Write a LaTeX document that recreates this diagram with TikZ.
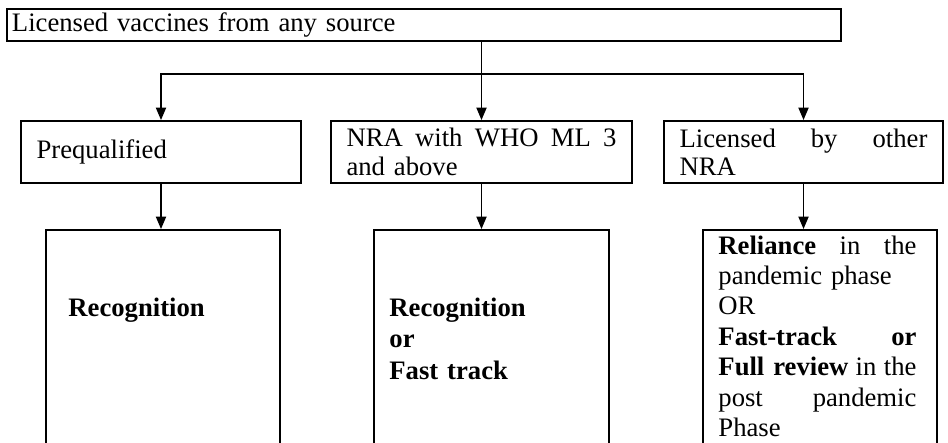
\documentclass[tikz,border=0pt]{standalone}
\usepackage{fontspec}
\setmainfont{Liberation Serif}
\usetikzlibrary{arrows.meta,positioning}
\tikzset{
  >={Triangle[length=5.6pt,width=4.6pt]},
  box/.style={draw, line width=0.9pt, inner sep=0pt, align=left},
  lowtext/.style={anchor=base west, inner sep=0pt, align=left},
}
\newcommand{\spreadline}[2]{\leavevmode\hbox to #1{#2}}
\begin{document}
\begin{tikzpicture}[x=0.45pt,y=0.45pt,font=\fontsize{12}{12.75}\selectfont]
      \clip (0,0) rectangle (948,-442);
      \node[box, minimum width=375.3pt, minimum height=14.4pt, text width=370.8pt]
        (src) at (424,-25) {Licensed vaccines from any source};
      \coordinate (split) at (481,-74);
      \node[box, minimum width=126pt, minimum height=27.9pt, text width=112pt]
        (mid1) at (161,-152) {Prequalified};
      \node[box, minimum width=135.45pt, minimum height=27.9pt, text width=121.45pt]
        (mid2) at (481.5,-152)
        {\spreadline{121.45pt}{NRA\hfill with\hfill WHO\hfill ML\hfill 3}\\and above};
      \node[box, minimum width=125.55pt, minimum height=27.9pt, text width=111.55pt]
        (mid3) at (803.5,-152)
        {\spreadline{111.55pt}{Licensed\hfill by\hfill other}\\NRA};
      \node[box, minimum width=105.3pt, minimum height=112.5pt] (low1) at (163,-355) {};
      \node[box, minimum width=105.75pt, minimum height=112.5pt] (low2) at (491.5,-355) {};
      \node[box, minimum width=105.3pt, minimum height=112.5pt] (low3) at (820,-355) {};
      \node[lowtext, text width=80pt, font=\bfseries\fontsize{12}{12.75}\selectfont]
        (rec1) at ([xshift=10.35pt,yshift=-39.15pt]low1.north west) {Recognition};
      \node[lowtext, text width=80pt, font=\bfseries\fontsize{12}{14.2}\selectfont]
        (rec2) at ([xshift=7.2pt,yshift=-39.15pt]low2.north west) {Recognition\\or\\Fast track};
      \node[lowtext, text width=89.1pt, font=\fontsize{12}{13.7}\selectfont]
        (rel3) at ([xshift=7.2pt,yshift=-11.25pt]low3.north west)
        {\spreadline{89.1pt}{\textbf{Reliance}\hfill in\hfill the}\\
         pandemic phase\\
         OR\\
         \spreadline{89.1pt}{\textbf{Fast-track}\hfill\textbf{or}}\\
         \spreadline{89.1pt}{\textbf{Full review}\hfill in\hfill the}\\
         \spreadline{89.1pt}{post\hfill pandemic}\\
         Phase};
      \begin{scope}[line width=0.6pt]
        \draw[->] (src.south -| mid2.north) to (mid2.north);
        \draw[<->] (mid1.north) |- (split) -| (mid3.north);
        \draw[->] (mid1.south) to (mid1.south |- low1.north);
        \draw[->] (mid2.south) to (mid2.south |- low2.north);
        \draw[->] (mid3.south) to (mid3.south |- low3.north);
      \end{scope}
    \end{tikzpicture}
\end{document}
